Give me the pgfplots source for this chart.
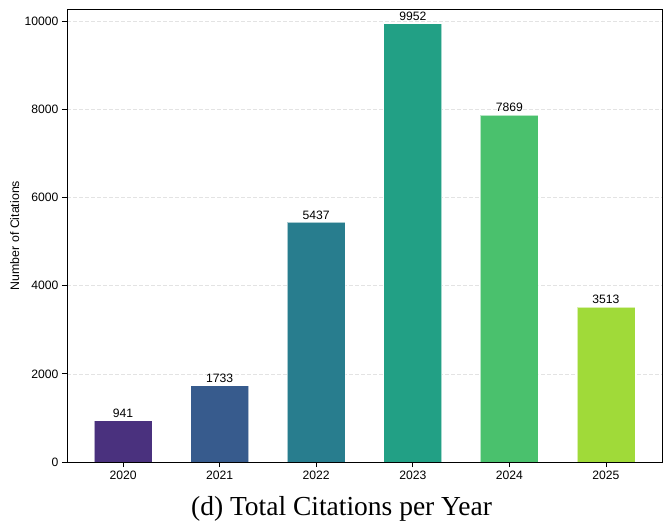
\documentclass[border=0pt]{standalone}
\usepackage{fontspec}
\setmainfont{Liberation Sans}
\newfontfamily\capfont{Liberation Serif}
\usepackage{pgfplots}
\pgfplotsset{compat=1.18}

\definecolor{c20}{HTML}{4A317E}
\definecolor{c21}{HTML}{375B8D}
\definecolor{c22}{HTML}{287D8E}
\definecolor{c23}{HTML}{22A085}
\definecolor{c24}{HTML}{4AC16D}
\definecolor{c25}{HTML}{A0DA39}

\begin{document}
\begin{tikzpicture}
\useasboundingbox (-67bp,-61bp) rectangle (601bp,462bp);
\begin{axis}[
  scale only axis, width=595bp, height=453bp,
  ybar, bar width=0.6, bar shift=0pt,
  xmin=-0.58, xmax=5.58, ymin=0, ymax=10282,
  xtick={0,...,5}, xticklabels={2020,2021,2022,2023,2024,2025},
  ytick={0,2000,...,10000},
  scaled y ticks=false,
  /pgf/number format/assume math mode=true,
  /pgf/number format/1000 sep={},
  tick label style={font=\fontsize{12.2}{14}\selectfont},
  ymajorgrids,
  grid style={gray!22, line width=0.6bp, dash pattern=on 4bp off 2bp},
  axis line style={line width=0.8bp},
  tick style={black, line width=0.8bp},
  major tick length=5bp,
  tick align=outside, xtick pos=bottom, ytick pos=left,
  ylabel={Number of Citations},
  ylabel style={font=\fontsize{12.4}{14}\selectfont, yshift=-1.5bp},
  nodes near coords,
  nodes near coords style={font=\fontsize{12.2}{14}\selectfont, anchor=south, inner sep=2.8bp, black},
  every axis plot/.append style={draw=white, draw opacity=0.6, line width=0.8bp},
]
\addplot[fill=c20] coordinates {(0,941)};
\addplot[fill=c21] coordinates {(1,1733)};
\addplot[fill=c22] coordinates {(2,5437)};
\addplot[fill=c23] coordinates {(3,9952)};
\addplot[fill=c24] coordinates {(4,7869)};
\addplot[fill=c25] coordinates {(5,3513)};
\end{axis}
\node[anchor=base, font=\capfont\fontsize{27.6}{32}\selectfont] at (274.5bp,-53bp) {(d) Total Citations per Year};
\end{tikzpicture}
\end{document}
